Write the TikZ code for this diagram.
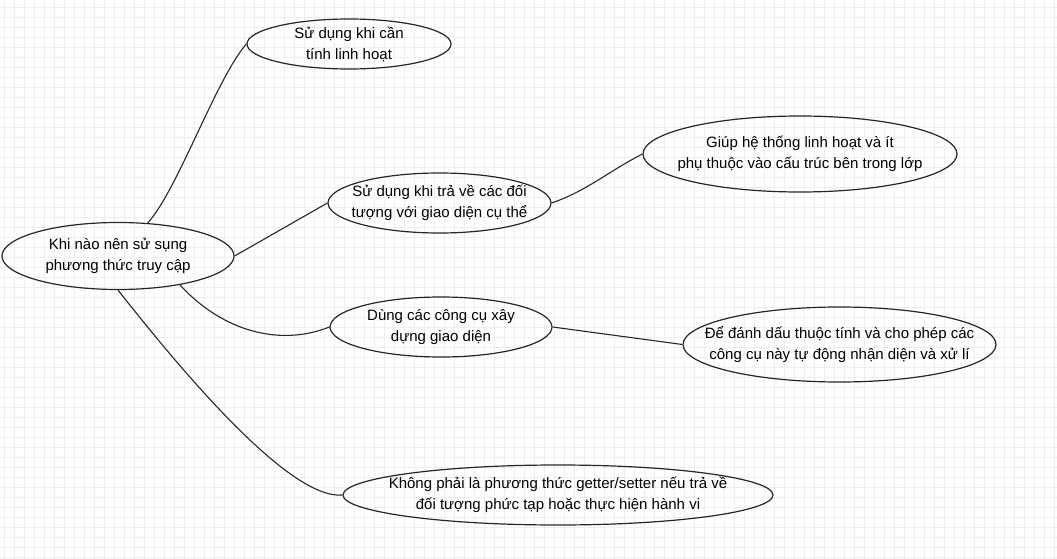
\documentclass[tikz,border=0pt]{standalone}
\usepackage{fontspec}
\setmainfont{Liberation Sans}
\usetikzlibrary{shapes.geometric}

\tikzset{
  bubble/.style={draw=black!85, line width=1.2pt, ellipse, inner sep=0pt},
  txt/.style={align=center, font=\fontsize{15}{21}\selectfont, text=black},
  link/.style={draw=black!85, line width=1.1pt},
  gridline/.style={draw=gray!13, line width=0.9pt}
}

\begin{document}
\begin{tikzpicture}[x=1pt, y=-1pt]
    \useasboundingbox (0,0) rectangle (1057,559);

    % Background grid
    \foreach \gx in {4,14,...,1054} \draw[gridline] (\gx,0) -- (\gx,559);
    \foreach \gy in {7,17,...,557} \draw[gridline] (0,\gy) -- (1057,\gy);

    % Ellipses
    \node[bubble, minimum width=232, minimum height=67] (root) at (118,256) {};
    \node[bubble, minimum width=204, minimum height=50] (flex) at (349,44) {};
    \node[bubble, minimum width=223, minimum height=60] (ret) at (439.5,203) {};
    \node[bubble, minimum width=314, minimum height=76] (retnote) at (800,154) {};
    \node[bubble, minimum width=222, minimum height=60] (tools) at (441,327) {};
    \node[bubble, minimum width=313, minimum height=75] (toolsnote) at (839.5,344.5) {};
    \node[bubble, minimum width=430, minimum height=60] (getter) at (558,495) {};

    % Texts
    \node[txt] (rootT) at (root) {Khi nào nên sử sụng\\phương thức truy cập};
    \node[txt] (flexT) at (flex) {Sử dụng khi cần\\tính linh hoạt};
    \node[txt] (retT) at (ret) {Sử dụng khi trả về các đối\\tượng với giao diện cụ thể};
    \node[txt] (retnoteT) at (retnote) {Giúp hệ thống linh hoạt và ít\\phụ thuộc vào cấu trúc bên trong lớp};
    \node[txt] (toolsT) at (tools) {Dùng các công cụ xây\\dựng giao diện};
    \node[txt] (toolsnoteT) at (toolsnote) {Để đánh dấu thuộc tính và cho phép các\\công cụ này tự động nhận diện và xử lí};
    \node[txt] (getterT) at (getter) {Không phải là phương thức getter/setter nếu trả về\\đối tượng phức tạp hoặc thực hiện hành vi};

    % Connectors
    \draw[link] (root.48) .. controls +(30,-33) and +(-30,34) .. (flex.west);
    \draw[link] (root.east) -- (ret.west);
    \draw[link] (ret.east) .. controls +(35,-12) and +(-35,18) .. (retnote.west);
    \draw[link] (root.-25) .. controls +(42,46) and +(-50,20) .. (tools.west);
    \draw[link] (tools.east) -- (toolsnote.west);
    \draw[link] (root.south) .. controls +(63,80) and +(-53,5) .. (getter.west);
\end{tikzpicture}
\end{document}
